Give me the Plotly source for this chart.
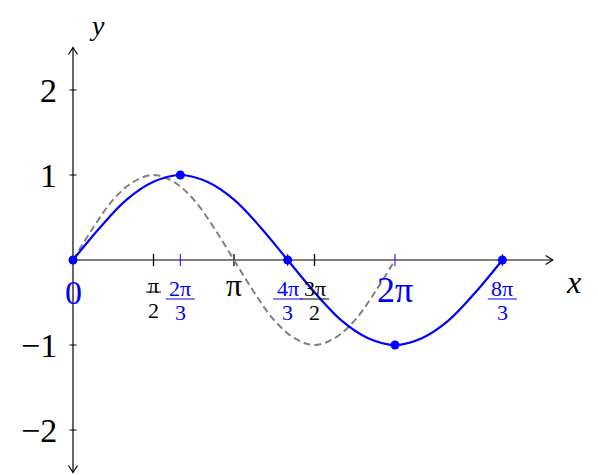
import numpy as np
import plotly.graph_objects as go

PI = np.pi

# dashed grey curve, values read at steps of pi/8
sin_x = PI * np.arange(17) / 8
sin_y = [0, 0.38, 0.71, 0.92, 1, 0.92, 0.71, 0.38, 0,
         -0.38, -0.71, -0.92, -1, -0.92, -0.71, -0.38, 0]

# blue curve, values read at steps of pi/6
blue_x = PI * np.arange(17) / 6
blue_y = [0, 0.38, 0.71, 0.92, 1, 0.92, 0.71, 0.38, 0,
          -0.38, -0.71, -0.92, -1, -0.92, -0.71, -0.38, 0]

# marked points on the blue curve
dot_x = PI * np.array([0, 2, 4, 6, 8]) / 3
dot_y = [0, 1, 0, -1, 0]

y_ticks = [2, 1, -1, -2]
y_labels = ["2", "1", "−1", "−2"]

black_ticks = [PI / 2, PI, 3 * PI / 2]
black_labels = [("π", "2"), "π", ("3π", "2")]

blue_ticks = [0, 2 * PI / 3, 4 * PI / 3, 2 * PI, 8 * PI / 3]
blue_labels = ["0", ("2π", "3"), ("4π", "3"), "2π", ("8π", "3")]

x_axis_end = 9.36
y_axis_lim = 2.5

# the page adds an 8px body margin, so the figure is 8px smaller
W, H = 590, 467
X0, XS = 65, 51.25
Y0, YS = 252, 85

BLUE = "rgb(0,0,255)"
GREY = "rgb(128,128,128)"
FONT = "Liberation Serif"


def dx(px):
    return px / XS


def dy(px):
    return px / YS


fig = go.Figure()

fig.add_trace(go.Scatter(x=sin_x, y=sin_y, mode="lines",
                         line=dict(color=GREY, width=2, dash="7px,4px", shape="spline"),
                         hoverinfo="skip"))
fig.add_trace(go.Scatter(x=blue_x, y=blue_y, mode="lines",
                         line=dict(color=BLUE, width=2.2, shape="spline"),
                         hoverinfo="skip"))
fig.add_trace(go.Scatter(x=dot_x, y=dot_y, mode="markers",
                         marker=dict(color=BLUE, size=9, line=dict(width=0)),
                         hoverinfo="skip"))

shapes = []
axis_line = dict(color="black", width=1.2)
# axis lines
shapes.append(dict(type="line", x0=0, x1=x_axis_end, y0=0, y1=0, line=axis_line, layer="below"))
shapes.append(dict(type="line", x0=0, x1=0, y0=-y_axis_lim, y1=y_axis_lim, line=axis_line, layer="below"))
# arrow heads
shapes.append(dict(type="path", layer="below", line=axis_line,
                   path=f"M {x_axis_end - dx(7)} {dy(4.5)} L {x_axis_end} 0 L {x_axis_end - dx(7)} {-dy(4.5)}"))
shapes.append(dict(type="path", layer="below", line=axis_line,
                   path=f"M {-dx(4.5)} {y_axis_lim - dy(7)} L 0 {y_axis_lim} L {dx(4.5)} {y_axis_lim - dy(7)}"))
shapes.append(dict(type="path", layer="below", line=axis_line,
                   path=f"M {-dx(4.5)} {-y_axis_lim + dy(7)} L 0 {-y_axis_lim} L {dx(4.5)} {-y_axis_lim + dy(7)}"))

# ticks
for v in y_ticks:
    shapes.append(dict(type="line", x0=-dx(3.5), x1=dx(3.5), y0=v, y1=v,
                       line=dict(color="black", width=1), layer="below"))
for v in black_ticks:
    shapes.append(dict(type="line", x0=v, x1=v, y0=-dy(6), y1=dy(6),
                       line=dict(color="black", width=1.3), layer="below"))
for v in blue_ticks[1:]:
    shapes.append(dict(type="line", x0=v, x1=v, y0=-dy(6), y1=dy(6),
                       line=dict(color=BLUE, width=1), layer="below"))

annotations = []


def add_label(x, label, color, frac_shift, plain_shift, plain_size=34):
    if isinstance(label, tuple):
        num, den = label
        bar_y, num_y, den_y = frac_shift
        w = 15 if len(num) == 1 else 29
        shapes.append(dict(type="line", x0=x - dx(w / 2), x1=x + dx(w / 2),
                           y0=-dy(bar_y), y1=-dy(bar_y), line=dict(color=color, width=1)))
        annotations.append(dict(x=x, y=0, text=num, showarrow=False, yshift=-num_y,
                                font=dict(family=FONT, size=22, color=color)))
        annotations.append(dict(x=x, y=0, text=den, showarrow=False, yshift=-den_y,
                                font=dict(family=FONT, size=22, color=color)))
    else:
        annotations.append(dict(x=x, y=0, text=label, showarrow=False, yshift=-plain_shift,
                                font=dict(family=FONT, size=plain_size, color=color)))


add_label(black_ticks[0], black_labels[0], "black", (32, 25, 50), 0)
add_label(black_ticks[1], black_labels[1], "black", None, 25, plain_size=32)
add_label(black_ticks[2], black_labels[2], "black", (39, 28, 52), 0)
add_label(blue_ticks[0], blue_labels[0], BLUE, None, 32)
for v, lab in zip(blue_ticks[1:], blue_labels[1:]):
    add_label(v, lab, BLUE, (39, 28, 52), 30, plain_size=36)

for v, lab in zip(y_ticks, y_labels):
    annotations.append(dict(x=0, y=v, text=lab, showarrow=False, xanchor="right", xshift=-14,
                            font=dict(family=FONT, size=34, color="black")))

annotations.append(dict(x=x_axis_end, y=0, text="<i>x</i>", showarrow=False, xshift=21, yshift=-22,
                        font=dict(family=FONT, size=32, color="black")))
annotations.append(dict(x=0, xref="x", y=1, yref="paper", yanchor="top", text="<i>y</i>",
                        showarrow=False, xshift=24, font=dict(family=FONT, size=28, color="black")))

fig.update_xaxes(range=[-X0 / XS, (W - X0) / XS], visible=False, fixedrange=True)
fig.update_yaxes(range=[-(H - Y0) / YS, Y0 / YS], visible=False, fixedrange=True)
fig.update_layout(
    width=W,
    height=H,
    margin=dict(l=0, r=0, t=0, b=0, pad=0),
    paper_bgcolor="white",
    plot_bgcolor="white",
    showlegend=False,
    shapes=shapes,
    annotations=annotations,
)

fig.write_html("out.html")
